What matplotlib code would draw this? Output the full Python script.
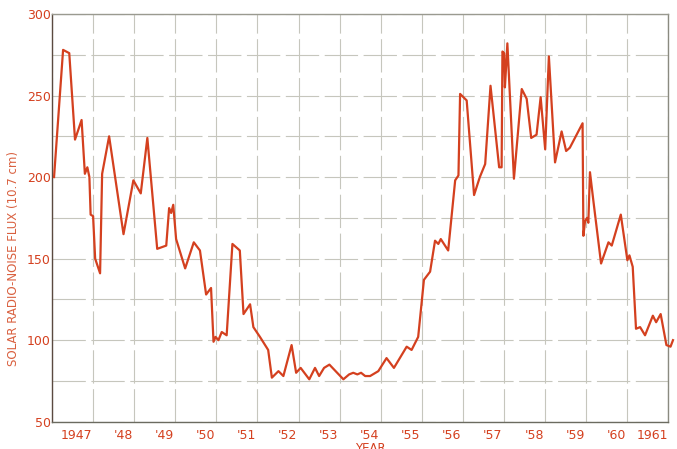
import matplotlib
matplotlib.use("Agg")
import matplotlib.pyplot as plt
from matplotlib.ticker import MultipleLocator

# monthly-ish readings of the 10.7 cm solar flux, 1947-1961
years = [1947.05, 1947.27, 1947.42, 1947.56, 1947.72, 1947.80, 1947.86, 1947.91,
         1947.94, 1948.00, 1948.05, 1948.17, 1948.22, 1948.39, 1948.74, 1948.98,
         1949.16, 1949.32, 1949.56, 1949.78, 1949.85, 1949.90, 1949.95, 1950.02,
         1950.24, 1950.45, 1950.60, 1950.75, 1950.87, 1950.93, 1950.98, 1951.05,
         1951.13, 1951.25, 1951.39, 1951.57, 1951.66, 1951.82, 1951.90, 1952.06,
         1952.26, 1952.35, 1952.51, 1952.63, 1952.83, 1952.94, 1953.05, 1953.26,
         1953.40, 1953.50, 1953.62, 1953.75, 1954.09, 1954.23, 1954.33, 1954.43,
         1954.52, 1954.62, 1954.74, 1954.94, 1955.14, 1955.32, 1955.63, 1955.75,
         1955.91, 1956.05, 1956.20, 1956.32, 1956.40, 1956.46, 1956.64, 1956.81,
         1956.89, 1956.93, 1957.09, 1957.27, 1957.41, 1957.54, 1957.67, 1957.88,
         1957.94, 1957.96, 1958.00, 1958.02, 1958.05, 1958.08, 1958.24, 1958.43,
         1958.55, 1958.66, 1958.79, 1958.89, 1959.00, 1959.09, 1959.24, 1959.40,
         1959.51, 1959.60, 1959.91, 1959.93, 1959.97, 1960.02, 1960.05, 1960.09,
         1960.17, 1960.36, 1960.54, 1960.62, 1960.84, 1961.00, 1961.05, 1961.13,
         1961.21, 1961.31, 1961.43, 1961.62, 1961.70, 1961.81, 1961.95, 1962.05,
         1962.11]
flux = [200, 278, 276, 223, 235, 202, 206, 200,
        177, 176, 150, 141, 202, 225, 165, 198,
        190, 224, 156, 158, 181, 178, 183, 162,
        144, 160, 155, 128, 132, 99, 102, 100,
        105, 103, 159, 155, 116, 122, 108, 102,
        94, 77, 81, 78, 97, 80, 83, 76,
        83, 78, 83, 85, 76, 79, 80, 79,
        80, 78, 78, 81, 89, 83, 96, 94,
        102, 137, 142, 161, 159, 162, 155, 198,
        201, 251, 247, 189, 200, 208, 256, 206,
        206, 277, 276, 255, 268, 282, 199, 254,
        248, 224, 226, 249, 217, 274, 209, 228,
        216, 218, 233, 164, 173, 175, 172, 203,
        186, 147, 160, 158, 177, 149, 152, 145,
        107, 108, 103, 115, 111, 116, 97, 96,
        100]

ytick_vals = [50, 100, 150, 200, 250, 300]
year_labels = ["1947", "'48", "'49", "'50", "'51", "'52", "'53", "'54",
               "'55", "'56", "'57", "'58", "'59", "'60", "1961"]

red = "#d4401f"
label_red = "#d9603f"
grid_c = "#c6c6bd"

fig = plt.figure(figsize=(6.77, 4.49), dpi=100)
ax = fig.add_axes([0.0768, 0.0608, 0.9106, 0.908])

ax.plot(years, flux, color=red, lw=1.6, clip_on=False, zorder=3)

ax.set_xlim(1947, 1962)
ax.set_ylim(50, 300)

# year boundaries carry the grid, labels sit inside each year
ax.xaxis.set_major_locator(MultipleLocator(1))
ax.xaxis.set_major_formatter(plt.NullFormatter())
label_pos = [1947.6] + [y + 0.73 for y in range(1948, 1961)] + [1961.6]
ax.set_xticks(label_pos, minor=True)
ax.set_xticklabels(year_labels, minor=True)

ax.set_yticks(ytick_vals)
ax.yaxis.set_minor_locator(MultipleLocator(25))

ax.tick_params(which="both", length=0)
ax.tick_params(axis="x", which="minor", pad=5, labelsize=9, colors=red)
ax.tick_params(axis="y", which="major", pad=1, labelsize=9, colors=red)

ax.grid(True, which="major", axis="x", color=grid_c, lw=0.8,
        linestyle=(0, (30, 5)))
ax.grid(True, which="both", axis="y", color=grid_c, lw=0.8,
        linestyle=(0, (30, 5)))

for side, c in [("left", "#5b4a40"), ("bottom", "#6b6b60"),
                ("top", "#9a9a90"), ("right", "#8a8a80")]:
    ax.spines[side].set_color(c)
    ax.spines[side].set_linewidth(1.0)

ax.set_ylabel("SOLAR RADIO-NOISE FLUX (10.7 cm)", color=label_red, fontsize=8.5)
ax.yaxis.set_label_coords(-0.052, 0.40)

fig.text(0.547, 0.0145, "YEAR", color=red, fontsize=8.5, ha="center", va="top")

fig.savefig("out.png", dpi=100, facecolor="white")
